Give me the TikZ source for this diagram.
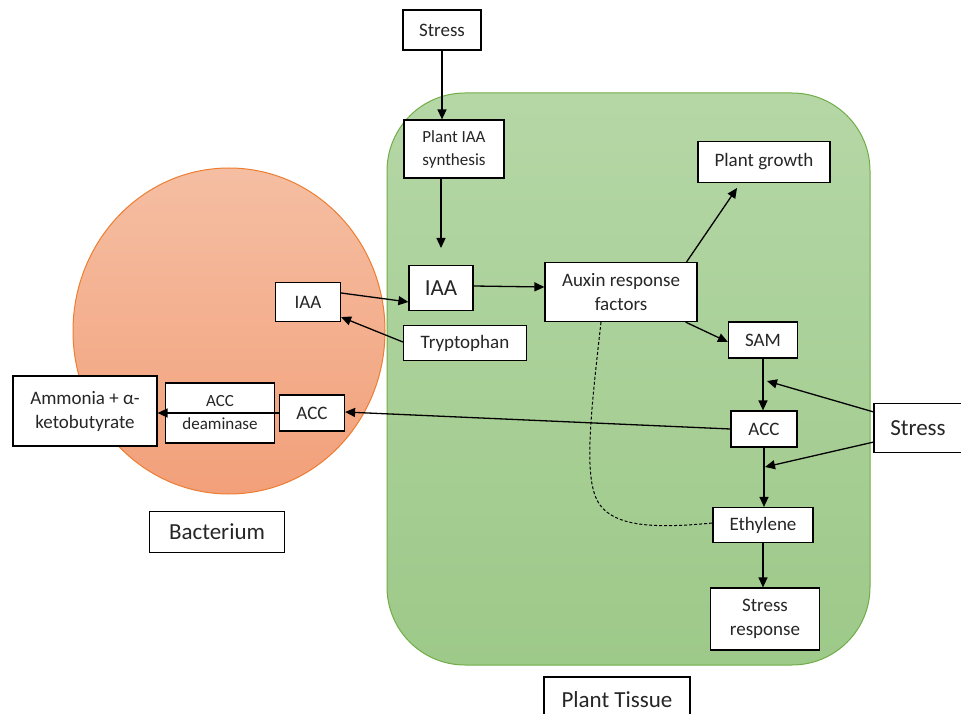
\documentclass[tikz,border=0pt]{standalone}
\usepackage{fontspec}
\setmainfont{Carlito}
\usetikzlibrary{arrows.meta}
\definecolor{txt}{HTML}{262626}
\definecolor{gtop}{RGB}{181,215,166}
\definecolor{gbot}{RGB}{157,201,137}
\definecolor{gline}{HTML}{70AD47}
\definecolor{otop}{RGB}{245,190,162}
\definecolor{obot}{RGB}{242,160,122}
\definecolor{oline}{HTML}{ED7D31}
\tikzset{
  box/.style={draw=black, fill=white, line width=1.2pt, text=txt, align=center, inner sep=0pt},
  fs/.style={font=\fontsize{17}{23}\selectfont},
  fm/.style={font=\fontsize{19}{24}\selectfont},
  fb/.style={font=\fontsize{23}{27}\selectfont},
  arr/.style={-{Triangle[length=10pt,width=9pt]}, line width=1.3pt, draw=black},
}
\begin{document}
\begin{tikzpicture}[x=1pt,y=-1pt]
\useasboundingbox (0,0) rectangle (961,714);
\clip (0,0) rectangle (961,714);
% regions
\shade[top color=gtop, bottom color=gbot, draw=gline, line width=1pt, rounded corners=78pt]
  (387,93) rectangle (870,665);
\shade[top color=otop, bottom color=obot, draw=oline, line width=1pt]
  (229,331) ellipse [x radius=156, y radius=163];
% nodes
\node[box,fm,minimum width=78pt,minimum height=40pt] (stressT) at (442,30) {Stress};
\node[box,fs,minimum width=100pt,minimum height=58pt] (pias) at (454,149) {Plant IAA\\synthesis};
\node[box,fb,minimum width=64pt,minimum height=45pt] (iaa) at (441,288) {IAA};
\node[box,fm,minimum width=152pt,minimum height=59pt] (arf) at (621,292) {Auxin response\\factors};
\node[box,fm,minimum width=132pt,minimum height=41pt] (pg) at (764,162) {Plant growth};
\node[box,fm,minimum width=65pt,minimum height=39pt] (iaaL) at (308,302) {IAA};
\node[box,fm,minimum width=123pt,minimum height=35pt] (tryp) at (465,343) {Tryptophan};
\node[box,fm,minimum width=69pt,minimum height=36pt] (sam) at (763,340) {SAM};
\node[box,fm,minimum width=66pt,minimum height=36pt] (acc) at (764,429) {ACC};
\node[box,fb,minimum width=88pt,minimum height=49pt] (stressR) at (918,428) {Stress};
\node[box,fm,minimum width=100pt,minimum height=35pt] (eth) at (763,525) {Ethylene};
\node[box,fm,minimum width=109pt,minimum height=62pt] (sr) at (765,619) {Stress\\response};
\node[box,fb,minimum width=146pt,minimum height=46pt] (pt) at (617,700) {Plant Tissue};
\node[box,fb,minimum width=135pt,minimum height=41pt] (bact) at (217,532) {Bacterium};
\node[box,fm,minimum width=144pt,minimum height=70pt] (amm) at (85,411) {Ammonia + α-\\ketobutyrate};
\node[box,fs,minimum width=109pt,minimum height=60pt] (accd) at (220,413) {ACC\\deaminase};
\node[box,fm,minimum width=65pt,minimum height=36pt] (accL) at (312,413) {ACC};
% free ends
\coordinate (c1) at (441,248);
\coordinate (c2) at (737,188);
\coordinate (c3) at (767,381);
\coordinate (c4) at (765,467);
% connectors
\draw[arr] (stressT.south) -- (stressT.south|-pias.north);
\draw[arr] (pias.south-|c1) -- (c1);
\draw[arr] ([yshift=9pt]iaaL.east) -- ([yshift=-14pt]iaa.west);
\draw[arr] ([yshift=1pt]tryp.west) -- ([yshift=5pt]iaaL.south east);
\draw[arr] ([yshift=2pt]iaa.east) -- ([yshift=5pt]arf.west);
\draw[arr] ([xshift=-11pt]arf.north east) -- (c2);
\draw[arr] ([xshift=-12pt]arf.south east) -- ([yshift=-2pt]sam.west);
\draw[arr] (sam.south) -- (sam.south|-acc.north);
\draw[arr] ([yshift=-9pt]stressR.north west) -- (c3);
\draw[arr] ([yshift=11pt]stressR.south west) -- (c4);
\draw[arr] (acc.south) -- (acc.south|-eth.north);
\draw[arr] (acc.west) -- ([yshift=1pt]accL.east);
\draw[arr] (accL.west) -- ([yshift=-2pt]amm.east);
\draw[arr] (eth.south) -- (eth.south|-sr.north);
\draw[dashed, dash pattern=on 3pt off 2pt, line width=1pt] ([xshift=-20pt]arf.south) .. controls (590,420) and (583,482) .. (600,505)
  .. controls (617,528) and (660,528) .. ([yshift=2pt]eth.west);
\end{tikzpicture}
\end{document}
